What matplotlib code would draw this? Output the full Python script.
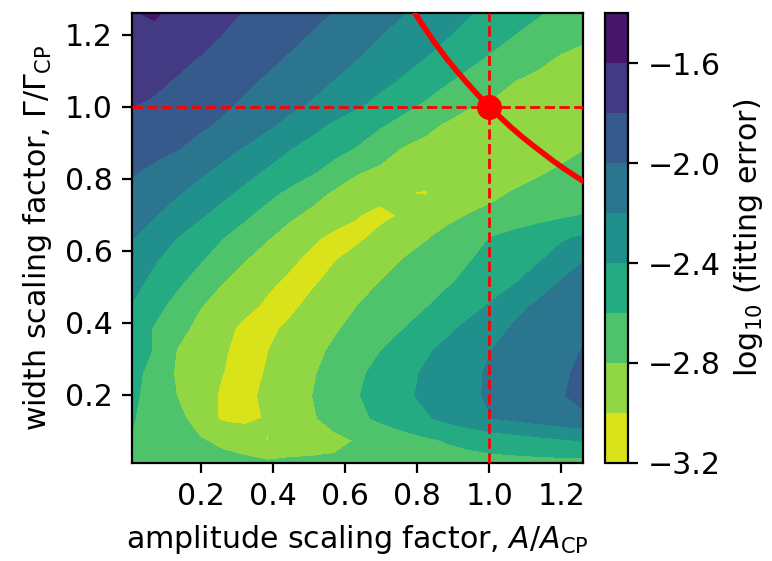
import matplotlib
matplotlib.use("Agg")

import numpy as np
import matplotlib.pyplot as plt

plt.rcParams["font.size"] = 10.8

# grid of scaling factors (A/A_CP along x, Gamma/Gamma_CP along y)
amp_factor = np.linspace(0.01, 1.26, 21)
width_factor = np.linspace(0.01, 1.26, 21)

# log10(fitting error), one row per width factor (bottom row first)
err_w001 = [-2.64, -2.66, -2.69, -2.72, -2.74, -2.76, -2.77, -2.775, -2.775, -2.77, -2.75, -2.72, -2.70, -2.685, -2.675, -2.665, -2.66, -2.66, -2.66, -2.66, -2.66]
err_w007 = [-2.61, -2.66, -2.72, -2.785, -2.84, -2.88, -3.01, -2.88, -2.86, -2.84, -2.79, -2.738, -2.686, -2.634, -2.588, -2.555, -2.522, -2.49, -2.457, -2.424, -2.39]
err_w014 = [-2.59, -2.66, -2.751, -2.881, -3.03, -3.05, -2.985, -2.89, -2.819, -2.734, -2.645, -2.565, -2.494, -2.424, -2.348, -2.271, -2.197, -2.157, -2.116, -2.076, -2.036]
err_w020 = [-2.57, -2.665, -2.805, -2.916, -3.025, -3.04, -2.97, -2.882, -2.801, -2.706, -2.611, -2.525, -2.441, -2.365, -2.297, -2.23, -2.171, -2.12, -2.069, -2.018, -1.94]
err_w026 = [-2.55, -2.656, -2.828, -2.914, -2.997, -3.05, -2.99, -2.903, -2.82, -2.729, -2.635, -2.546, -2.46, -2.378, -2.306, -2.233, -2.173, -2.124, -2.075, -2.026, -1.97]
err_w032 = [-2.52, -2.612, -2.808, -2.895, -2.982, -3.05, -3.005, -2.928, -2.85, -2.77, -2.688, -2.606, -2.517, -2.428, -2.348, -2.272, -2.197, -2.146, -2.096, -2.045, -1.995]
err_w039 = [-2.47, -2.617, -2.741, -2.85, -2.946, -3.04, -3.04, -2.97, -2.896, -2.821, -2.75, -2.68, -2.61, -2.527, -2.441, -2.35, -2.254, -2.179, -2.13, -2.082, -2.033]
err_w045 = [-2.41, -2.54, -2.665, -2.789, -2.872, -2.95, -3.03, -3.04, -2.954, -2.878, -2.802, -2.74, -2.677, -2.615, -2.54, -2.462, -2.376, -2.25, -2.174, -2.132, -2.09]
err_w051 = [-2.34, -2.459, -2.57, -2.684, -2.8, -2.883, -2.967, -3.04, -3.02, -2.948, -2.872, -2.797, -2.737, -2.678, -2.618, -2.55, -2.479, -2.408, -2.289, -2.188, -2.146]
err_w057 = [-2.266, -2.386, -2.49, -2.587, -2.692, -2.799, -2.884, -2.969, -3.05, -3.005, -2.938, -2.867, -2.797, -2.733, -2.669, -2.605, -2.543, -2.481, -2.419, -2.32, -2.204]
err_w064 = [-2.193, -2.299, -2.405, -2.501, -2.597, -2.693, -2.789, -2.88, -2.971, -3.05, -3.03, -2.955, -2.882, -2.817, -2.742, -2.663, -2.59, -2.535, -2.481, -2.427, -2.373]
err_w070 = [-2.122, -2.195, -2.286, -2.377, -2.474, -2.572, -2.673, -2.773, -2.848, -2.913, -2.995, -3.04, -2.985, -2.91, -2.85, -2.79, -2.754, -2.714, -2.674, -2.634, -2.594]
err_w076 = [-2.051, -2.117, -2.183, -2.266, -2.355, -2.448, -2.548, -2.644, -2.738, -2.83, -2.9, -2.95, -2.995, -3.01, -2.955, -2.895, -2.837, -2.785, -2.745, -2.705, -2.671]
err_w082 = [-1.982, -2.029, -2.097, -2.165, -2.243, -2.332, -2.419, -2.497, -2.575, -2.674, -2.783, -2.83, -2.88, -2.925, -2.95, -2.96, -2.93, -2.88, -2.83, -2.78, -2.745]
err_w089 = [-1.917, -1.954, -1.991, -2.057, -2.134, -2.212, -2.303, -2.393, -2.466, -2.538, -2.614, -2.72, -2.81, -2.85, -2.89, -2.92, -2.94, -2.935, -2.91, -2.87, -2.81]
err_w095 = [-1.852, -1.893, -1.933, -1.974, -2.027, -2.099, -2.171, -2.257, -2.352, -2.436, -2.511, -2.585, -2.67, -2.758, -2.83, -2.87, -2.9, -2.925, -2.94, -2.935, -2.925]
err_w101 = [-1.79, -1.816, -1.866, -1.917, -1.967, -2.022, -2.086, -2.15, -2.216, -2.293, -2.369, -2.45, -2.533, -2.617, -2.7, -2.783, -2.82, -2.85, -2.88, -2.91, -2.94]
err_w107 = [-1.746, -1.77, -1.813, -1.865, -1.916, -1.967, -2.022, -2.083, -2.144, -2.206, -2.277, -2.347, -2.421, -2.504, -2.587, -2.66, -2.731, -2.801, -2.845, -2.888, -2.93]
err_w114 = [-1.70, -1.72, -1.76, -1.807, -1.859, -1.911, -1.963, -2.017, -2.077, -2.138, -2.198, -2.266, -2.334, -2.402, -2.481, -2.559, -2.63, -2.691, -2.753, -2.82, -2.85]
err_w120 = [-1.655, -1.64, -1.685, -1.745, -1.804, -1.856, -1.908, -1.96, -2.014, -2.075, -2.136, -2.197, -2.262, -2.327, -2.393, -2.465, -2.537, -2.607, -2.662, -2.716, -2.77]
err_w126 = [-1.61, -1.58, -1.645, -1.70, -1.756, -1.81, -1.86, -1.909, -1.959, -2.01, -2.072, -2.133, -2.194, -2.26, -2.326, -2.392, -2.457, -2.521, -2.586, -2.65, -2.72]

# constant-area curve through the CP point (A*Gamma fixed)
curve_amp = [0.79, 0.82, 0.85, 0.88, 0.91, 0.94, 0.97, 1.00, 1.03, 1.06, 1.09, 1.12, 1.15, 1.18, 1.21, 1.24, 1.27]
curve_width = [1.266, 1.220, 1.176, 1.136, 1.099, 1.064, 1.031, 1.000, 0.971, 0.943, 0.917, 0.893, 0.870, 0.847, 0.826, 0.806, 0.787]

cp_amp = 1.0
cp_width = 1.0

levels = [-3.2, -3.0, -2.8, -2.6, -2.4, -2.2, -2.0, -1.8, -1.6, -1.4]
cbar_ticks = [-3.2, -2.8, -2.4, -2.0, -1.6]
axis_ticks = [0.2, 0.4, 0.6, 0.8, 1.0, 1.2]

log_err = np.array([
    err_w001, err_w007, err_w014, err_w020, err_w026, err_w032, err_w039,
    err_w045, err_w051, err_w057, err_w064, err_w070, err_w076, err_w082,
    err_w089, err_w095, err_w101, err_w107, err_w114, err_w120, err_w126,
])

fig = plt.figure(figsize=(3.86, 2.805), dpi=200)
ax = fig.add_axes([0.171, 0.1747, 0.5842, 0.8021])
cax = fig.add_axes([0.7837, 0.1747, 0.0302, 0.8021])

cs = ax.contourf(amp_factor, width_factor, log_err, levels=levels, cmap="viridis_r")

ax.plot(curve_amp, curve_width, color="red", lw=2.0, zorder=4)
ax.axvline(cp_amp, color="red", lw=1.0, ls="--", zorder=3)
ax.axhline(cp_width, color="red", lw=1.0, ls="--", zorder=3)
ax.plot([cp_amp], [cp_width], "o", color="red", ms=8, zorder=5)

ax.set_xlim(0.01, 1.26)
ax.set_ylim(0.01, 1.26)
ax.set_xticks(axis_ticks)
ax.set_yticks(axis_ticks)
ax.set_xlabel(r"amplitude scaling factor, $A/A_{\rm CP}$")
ax.set_ylabel(r"width scaling factor, $\Gamma/\Gamma_{\rm CP}$")

cbar = fig.colorbar(cs, cax=cax, ticks=cbar_ticks)
cbar.set_label(r"log$_{10}$ (fitting error)")

fig.savefig("out.png", dpi=200)
